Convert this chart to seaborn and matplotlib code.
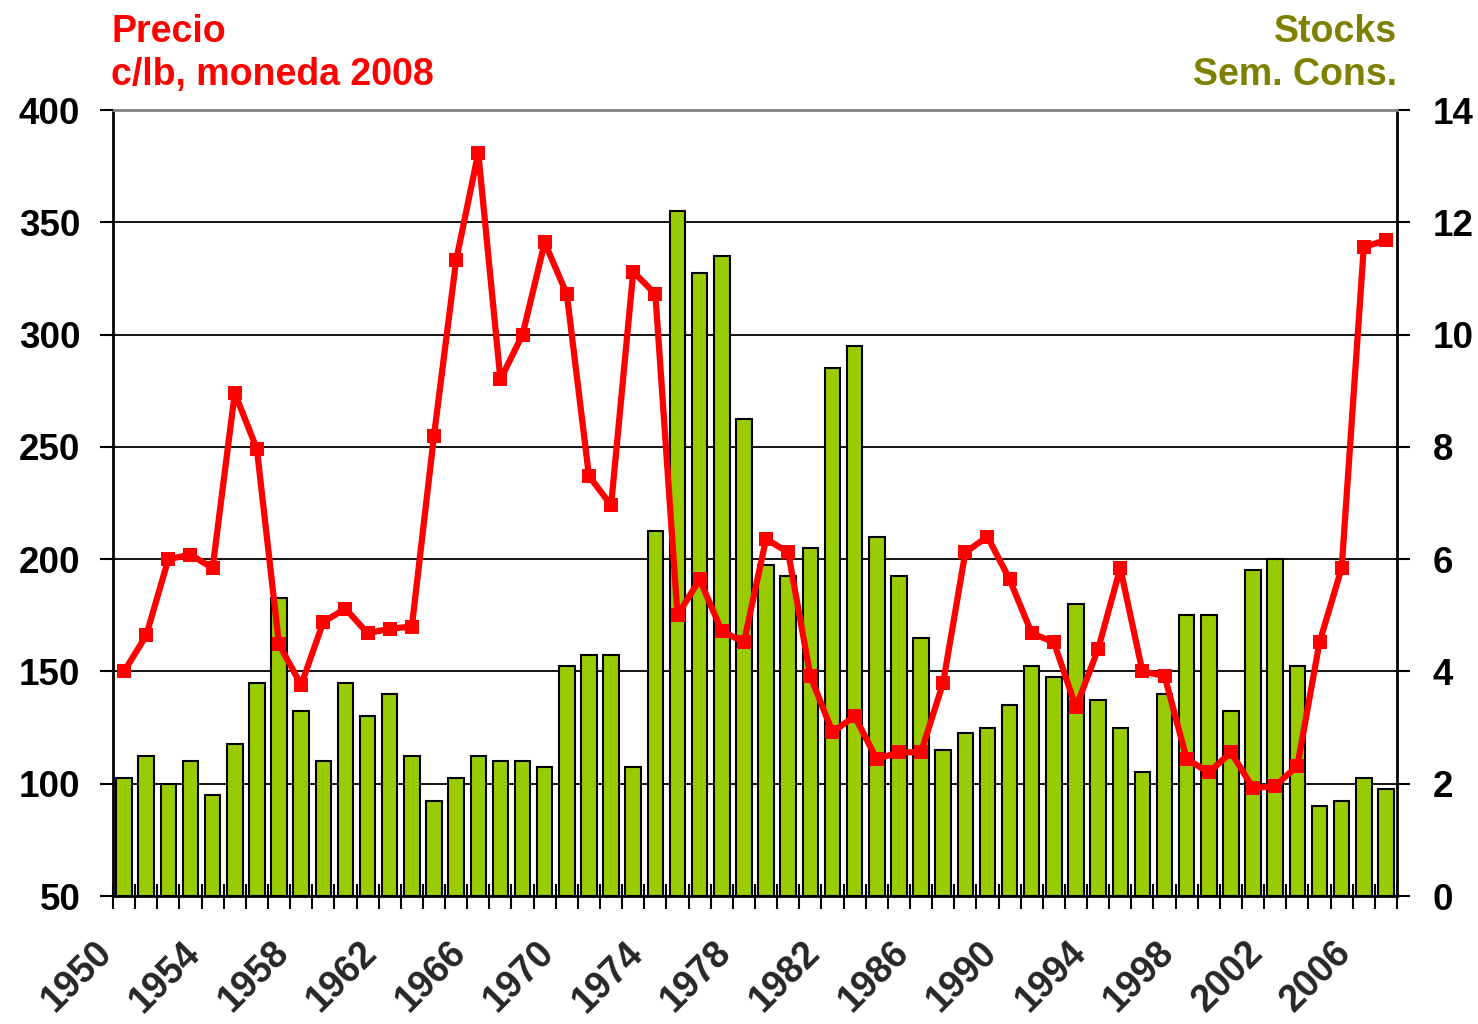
import matplotlib
matplotlib.use("Agg")

import numpy as np
import pandas as pd
import matplotlib.pyplot as plt
import matplotlib.transforms as mtransforms
import seaborn as sns

years = list(range(1950, 2008))

# precio, c/lb moneda 2008 (eje izquierdo)
price = [150, 166, 200, 202, 196, 274, 249, 162, 144, 172,
         178, 167, 169, 170, 255, 333, 381, 280, 300, 341,
         318, 237, 224, 328, 318, 175, 191, 168, 163, 209,
         203, 148, 123, 130, 111, 114, 114, 145, 203, 210,
         191, 167, 163, 134, 160, 196, 150, 148, 111, 105,
         114, 98, 99, 108, 163, 196, 339, 342]

# stocks en semanas de consumo (eje derecho)
stocks = [2.1, 2.5, 2.0, 2.4, 1.8, 2.7, 3.8, 5.3, 3.3, 2.4,
          3.8, 3.2, 3.6, 2.5, 1.7, 2.1, 2.5, 2.4, 2.4, 2.3,
          4.1, 4.3, 4.3, 2.3, 6.5, 12.2, 11.1, 11.4, 8.5, 5.9,
          5.7, 6.2, 9.4, 9.8, 6.4, 5.7, 4.6, 2.6, 2.9, 3.0,
          3.4, 4.1, 3.9, 5.2, 3.5, 3.0, 2.2, 3.6, 5.0, 5.0,
          3.3, 5.8, 6.0, 4.1, 1.6, 1.7, 2.1, 1.9]

label_years = years[::4]

df = pd.DataFrame({"year": years, "price": price, "stocks": stocks})

sns.set_theme(style="white")
plt.rcParams["font.family"] = ["Liberation Sans", "DejaVu Sans"]
plt.rcParams["font.weight"] = "bold"

RED = "#FF0000"
OLIVE = "#808000"
GREEN = "#99CC00"

fig = plt.figure(figsize=(14.78, 10.24), dpi=100)
ax_bar = fig.add_axes([113 / 1478, 1 - 896 / 1024, (1397 - 113) / 1478, (896 - 110) / 1024])
ax_price = ax_bar.twinx()

sns.barplot(data=df, x="year", y="stocks", native_scale=True, width=0.7,
            color=GREEN, saturation=1, edgecolor="black", linewidth=1.5,
            ax=ax_bar)
sns.lineplot(data=df, x="year", y="price", ax=ax_price, color=RED,
             linewidth=4.5, marker="s", markersize=10,
             markeredgecolor=RED, markeredgewidth=0)

# eje derecho (stocks) con la rejilla
ax_bar.set_xlim(years[0] - 0.5, years[-1] + 0.5)
ax_bar.set_ylim(0, 14)
ax_bar.set_yticks(range(0, 15, 2))
ax_bar.yaxis.tick_right()
ax_bar.grid(axis="y", color="black", linewidth=1.3)
ax_bar.yaxis.get_gridlines()[-1].set_color("#808080")
ax_bar.set_axisbelow(True)
ax_bar.set_xlabel("")
ax_bar.set_ylabel("")

# eje izquierdo (precio)
ax_price.set_ylim(50, 400)
ax_price.set_yticks(range(50, 401, 50))
ax_price.yaxis.tick_left()
ax_price.set_ylabel("")
for sp in ax_price.spines.values():
    sp.set_visible(False)

for side in ["left", "right", "bottom"]:
    ax_bar.spines[side].set_color("black")
    ax_bar.spines[side].set_linewidth(2)
ax_bar.spines["top"].set_color("#808080")
ax_bar.spines["top"].set_linewidth(2)

ax_price.tick_params(axis="y", labelsize=26.5, length=9.5, width=1.5,
                     direction="out", pad=14, colors="black")
ax_bar.tick_params(axis="y", labelsize=26.5, length=9.5, width=1.5,
                   direction="out", pad=16, colors="black")

# eje x: marcas entre categorias, etiquetas cada 4 años
ax_bar.set_xticks(np.arange(years[0] - 0.5, years[-1] + 1, 1), minor=True)
ax_bar.set_xticks(label_years)
ax_bar.set_xticklabels([str(y) for y in label_years], rotation=45,
                       ha="right", va="center", rotation_mode="anchor")
ax_bar.tick_params(axis="x", which="major", length=0, labelsize=27, pad=37)
ax_bar.tick_params(axis="x", which="minor", length=18, width=1.5,
                   direction="inout", color="black", bottom=True)
shift = mtransforms.ScaledTranslation(-18 / 100, 0, fig.dpi_scale_trans)
for lbl in ax_bar.get_xticklabels():
    lbl.set_transform(lbl.get_transform() + shift)

# titulos de los ejes
fig.text(111 / 1478, 1 - 42 / 1024, "Precio", color=RED, fontsize=27,
         fontweight="bold", ha="left", va="baseline")
fig.text(111 / 1478, 1 - 85 / 1024, "c/lb, moneda 2008", color=RED, fontsize=27,
         fontweight="bold", ha="left", va="baseline")
fig.text(1397 / 1478, 1 - 42 / 1024, "Stocks", color=OLIVE, fontsize=27,
         fontweight="bold", ha="right", va="baseline")
fig.text(1397 / 1478, 1 - 85 / 1024, "Sem. Cons.", color=OLIVE, fontsize=27,
         fontweight="bold", ha="right", va="baseline")

fig.savefig("out.png", dpi=100)
